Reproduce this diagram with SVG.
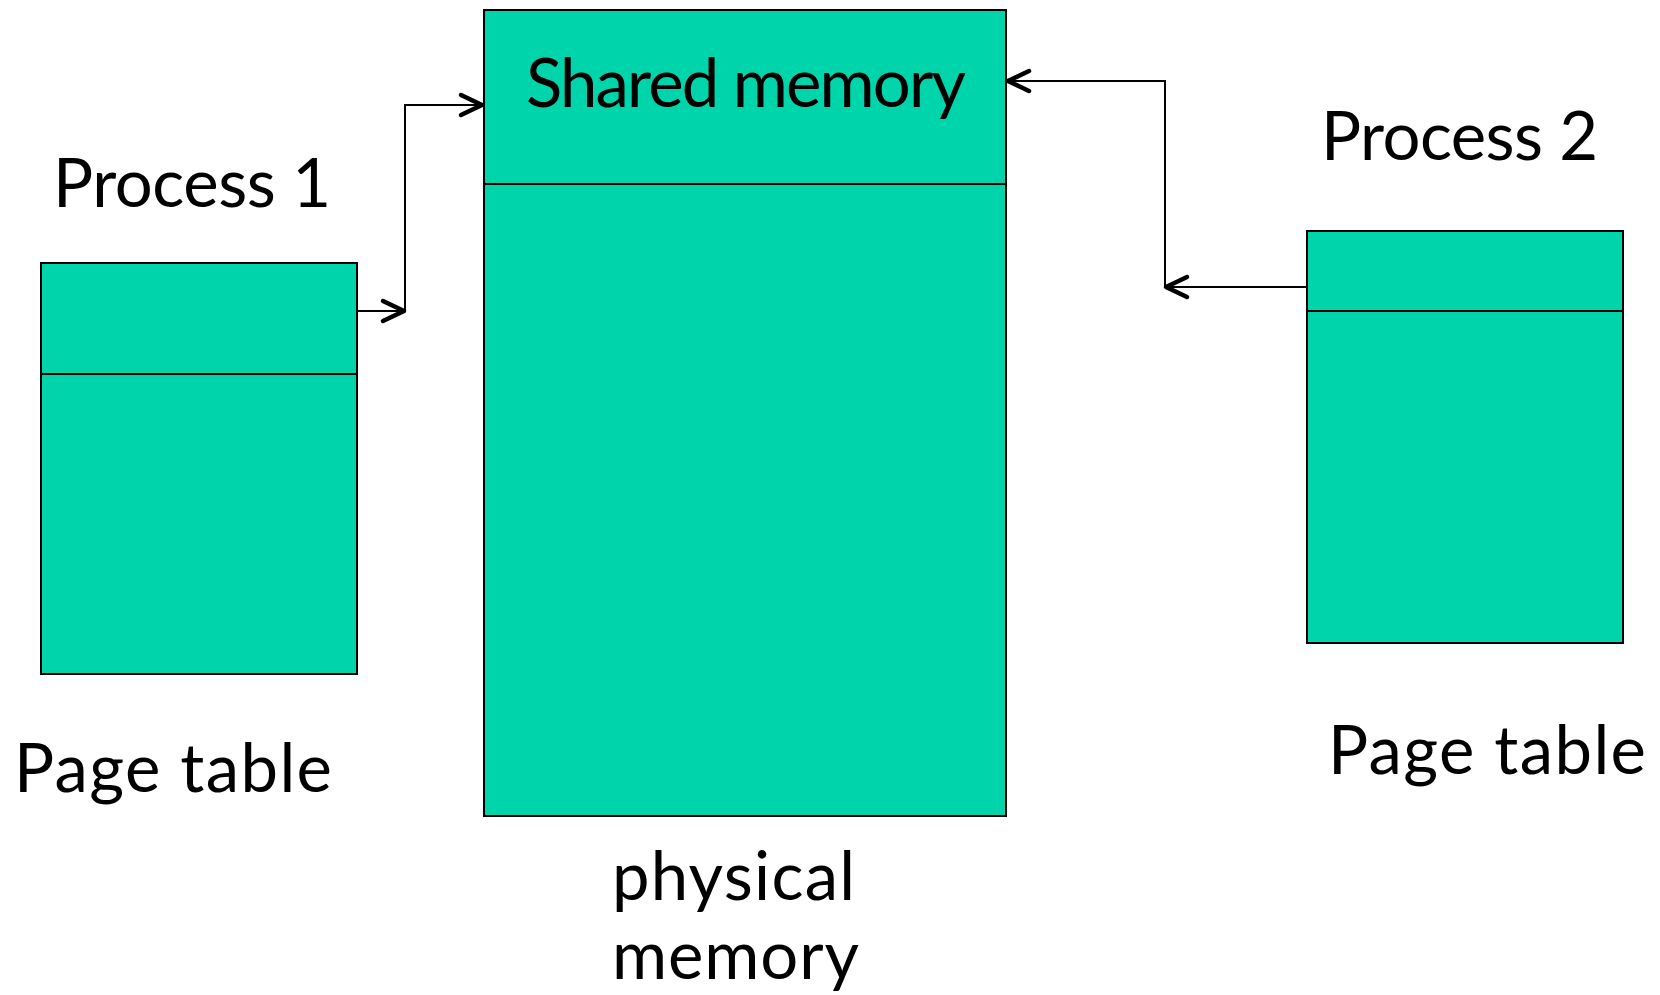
<svg xmlns="http://www.w3.org/2000/svg" width="1660" height="995" viewBox="0 0 1660 995">
<style>
.box{fill:#00D4AA;stroke:#000;stroke-width:2}
.div{stroke:#000;stroke-width:2}
.conn{fill:none;stroke:#000;stroke-width:2}
.lbl{font-family:Lato,"Open Sans","Liberation Sans",sans-serif;font-size:67px;fill:#000}
</style>
<defs>
<marker id="arr" markerUnits="userSpaceOnUse" markerWidth="30" markerHeight="30" viewBox="-25 -15 30 30" refX="0" refY="0" orient="auto">
<path d="M-21,-10 L0,0 L-21,10" fill="none" stroke="#000" stroke-width="4.5" stroke-linecap="round" stroke-linejoin="round"/>
</marker>
</defs>
<rect width="1660" height="995" fill="#fff"/>
<g id="process1-pagetable">
<rect class="box" x="41" y="263" width="316" height="411"/>
<line class="div" x1="41" y1="374" x2="357" y2="374"/>
<text class="lbl" x="53" y="207" textLength="278" lengthAdjust="spacing">Process 1</text>
<text class="lbl" x="14" y="792" textLength="318" lengthAdjust="spacing">Page table</text>
</g>
<g id="physical-memory">
<rect class="box" x="484" y="10" width="522" height="806"/>
<line class="div" x1="484" y1="184" x2="1006" y2="184"/>
<text class="lbl" x="526" y="107" textLength="440" lengthAdjust="spacing">Shared memory</text>
<text class="lbl" x="612" y="900" textLength="243" lengthAdjust="spacing">physical</text>
<text class="lbl" x="612" y="979" textLength="247" lengthAdjust="spacing">memory</text>
</g>
<g id="process2-pagetable">
<rect class="box" x="1307" y="231" width="316" height="412"/>
<line class="div" x1="1307" y1="311" x2="1623" y2="311"/>
<text class="lbl" x="1321" y="160" textLength="277" lengthAdjust="spacing">Process 2</text>
<text class="lbl" x="1328" y="774" textLength="318" lengthAdjust="spacing">Page table</text>
</g>
<g id="connectors">
<path class="conn" d="M357,311 L404,311" marker-end="url(#arr)"/>
<path class="conn" d="M405,311 L405,105 L482,105" marker-end="url(#arr)"/>
<path class="conn" d="M1307,287 L1166,287" marker-end="url(#arr)"/>
<path class="conn" d="M1165,287 L1165,81 L1008,81" marker-end="url(#arr)"/>
</g>
</svg>
